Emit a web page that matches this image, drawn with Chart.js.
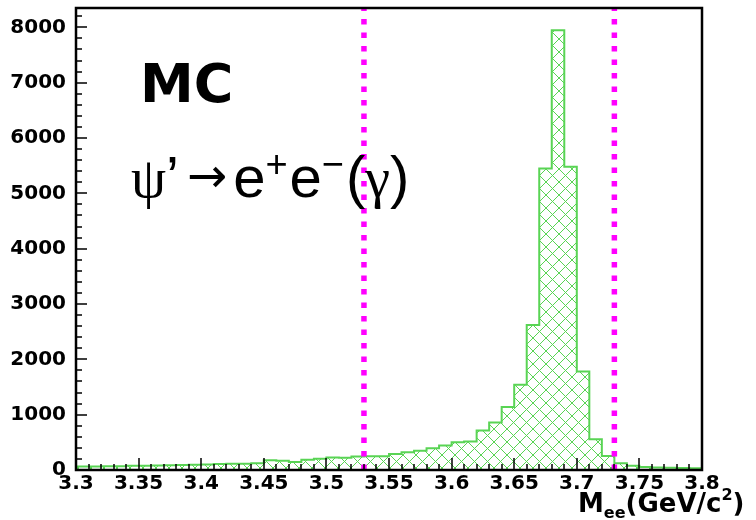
<!DOCTYPE html>
<html>
<head>
<meta charset="utf-8">
<script src="https://cdn.jsdelivr.net/npm/chart.js@4.4.1/dist/chart.umd.min.js"></script>
<style>
  body { margin: 0; background: #fff; }
  #wrap { width: 756px; height: 520px; position: relative; }
</style>
</head>
<body>
<div id="wrap"><canvas id="massChart"></canvas></div>
<script>
// M_ee histogram, 50 bins of 0.01 GeV starting at 3.30
const binStart = 3.30;
const binWidth = 0.01;
const counts = [
    65, 65, 70, 70, 75, 75, 80, 85, 90, 95,
    100, 108, 112, 115, 120, 175, 165, 145, 185, 205,
    225, 222, 245, 250, 250, 290, 320, 350, 392, 442,
    500, 515, 715, 860, 1140, 1540, 2620, 5450, 7950, 5480,
    1780, 555, 255, 120, 75, 55, 45, 40, 35, 30
];

// selection window (dashed lines)
const cutLow = 3.53;
const cutHigh = 3.73;

const xTicks = [3.3, 3.35, 3.4, 3.45, 3.5, 3.55, 3.6, 3.65, 3.7, 3.75, 3.8];
const xTickLabels = ['3.3', '3.35', '3.4', '3.45', '3.5', '3.55', '3.6', '3.65', '3.7', '3.75', '3.8'];
const yTicks = [0, 1000, 2000, 3000, 4000, 5000, 6000, 7000, 8000];
const yMax = 8350;

const green = 'rgb(89, 212, 84)';
const magenta = '#ff00ff';

// step points on the bin edges, last edge repeats the last bin
const histPoints = counts.map((c, i) => ({ x: binStart + i * binWidth, y: c }));
histPoints.push({ x: binStart + counts.length * binWidth, y: counts[counts.length - 1] });

// cross hatch like ROOT fill style
function makeHatch() {
    const c = document.createElement('canvas');
    c.width = 13; c.height = 13;
    const g = c.getContext('2d');
    g.strokeStyle = green;
    g.lineWidth = 1;
    g.beginPath();
    g.moveTo(0, 0); g.lineTo(13, 13);
    g.moveTo(0, 13); g.lineTo(13, 0);
    g.stroke();
    return g.createPattern(c, 'repeat');
}

// draws a row of text pieces, each with its own font / shift
function drawRun(ctx, x, y, pieces) {
    pieces.forEach(p => {
        ctx.font = p.font;
        ctx.fillText(p.t, x + (p.dx || 0), y + (p.dy || 0));
        x += ctx.measureText(p.t).width + (p.dx || 0) + (p.gap || 0);
    });
}

const decorations = {
    id: 'decorations',
    afterDatasetsDraw(chart) {
        const { ctx, chartArea: a, scales: { x, y } } = chart;
        ctx.save();
        ctx.strokeStyle = '#000';
        ctx.lineWidth = 1.5;
        ctx.beginPath();
        // x ticks: minor 0.01, major 0.05
        for (let i = 0; i <= 50; i++) {
            const px = Math.round(x.getPixelForValue(3.3 + i * 0.01));
            const len = i % 5 === 0 ? 12 : 6;
            ctx.moveTo(px, a.bottom);
            ctx.lineTo(px, a.bottom - len);
        }
        // y ticks: minor 200, major 1000
        for (let v = 0; v <= yMax; v += 200) {
            const py = Math.round(y.getPixelForValue(v));
            const len = v % 1000 === 0 ? 11 : 6;
            ctx.moveTo(a.left, py);
            ctx.lineTo(a.left + len, py);
        }
        ctx.stroke();

        ctx.lineWidth = 2.5;
        ctx.strokeRect(a.left, a.top, a.right - a.left, a.bottom - a.top);

        ctx.fillStyle = '#000';
        ctx.textBaseline = 'alphabetic';
        ctx.font = 'bold 54px "DejaVu Sans"';
        ctx.fillText('MC', 140, 102);

        const big = '58px "Liberation Sans"';
        const greek = '56px "Liberation Serif"';
        const sup = '38px "Liberation Sans"';
        drawRun(ctx, 131, 197, [
            { t: 'ψ', font: greek },
            { t: '’', font: big, gap: 8 },
            { t: '→', font: '48px "DejaVu Sans"', dy: -5, gap: 6 },
            { t: 'e', font: big },
            { t: '+', font: sup, dy: -20, gap: 2 },
            { t: 'e', font: big },
            { t: '−', font: sup, dy: -20, gap: 2 },
            { t: '(', font: big },
            { t: 'γ', font: greek },
            { t: ')', font: big }
        ]);

        drawRun(ctx, 578, 512, [
            { t: 'M', font: 'bold 26px "DejaVu Sans"' },
            { t: 'ee', font: 'bold 16px "DejaVu Sans"', dy: 6 },
            { t: '(GeV/c', font: 'bold 26px "DejaVu Sans"' },
            { t: '2', font: 'bold 16px "DejaVu Sans"', dy: -12 },
            { t: ')', font: 'bold 26px "DejaVu Sans"' }
        ]);
        ctx.restore();
    }
};

const ctx = document.getElementById('massChart').getContext('2d');
new Chart(ctx, {
    type: 'line',
    data: {
        datasets: [
            {
                label: 'cut low',
                data: [{ x: cutLow, y: 0 }, { x: cutLow, y: yMax }],
                borderColor: magenta,
                borderWidth: 5.5,
                borderDash: [5.5, 8],
                pointRadius: 0,
                fill: false
            },
            {
                label: 'cut high',
                data: [{ x: cutHigh, y: 0 }, { x: cutHigh, y: yMax }],
                borderColor: magenta,
                borderWidth: 5.5,
                borderDash: [5.5, 8],
                pointRadius: 0,
                fill: false
            },
            {
                label: 'MC',
                data: histPoints,
                stepped: true,
                borderColor: green,
                borderWidth: 2,
                backgroundColor: makeHatch(),
                fill: 'origin',
                pointRadius: 0
            }
        ]
    },
    options: {
        responsive: true,
        maintainAspectRatio: false,
        animation: false,
        devicePixelRatio: 1,
        layout: { padding: { top: 8, right: 54, left: 0, bottom: 0 } },
        plugins: { legend: { display: false }, tooltip: { enabled: false } },
        scales: {
            x: {
                type: 'linear',
                min: 3.3,
                max: 3.8,
                grid: { display: false, drawTicks: false },
                border: { display: false },
                afterBuildTicks: s => { s.ticks = xTicks.map(v => ({ value: v })); },
                afterFit: s => { s.height = 50; s.paddingLeft = 0; s.paddingRight = 0; },
                ticks: {
                    padding: 2,
                    maxRotation: 0,
                    autoSkip: false,
                    color: '#000',
                    font: { family: 'DejaVu Sans', weight: 'bold', size: 20 },
                    callback: (v, i) => xTickLabels[i]
                }
            },
            y: {
                min: 0,
                max: yMax,
                grid: { display: false, drawTicks: false },
                border: { display: false },
                afterBuildTicks: s => { s.ticks = yTicks.map(v => ({ value: v })); },
                afterFit: s => { s.width = 76; s.paddingTop = 0; s.paddingBottom = 0; },
                ticks: {
                    padding: 10,
                    autoSkip: false,
                    color: '#000',
                    font: { family: 'DejaVu Sans', weight: 'bold', size: 20 },
                    callback: v => String(v)
                }
            }
        }
    },
    plugins: [decorations]
});
</script>
</body>
</html>
